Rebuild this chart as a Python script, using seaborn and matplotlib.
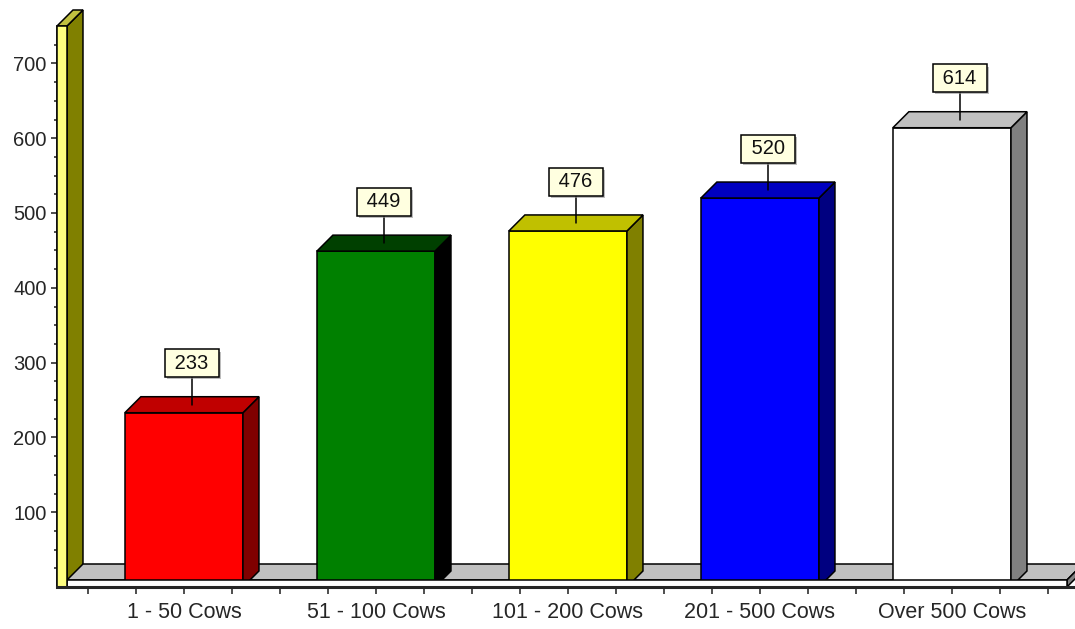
import matplotlib
matplotlib.use("Agg")
import matplotlib.pyplot as plt
import matplotlib.patheffects as pe
from matplotlib.patches import Polygon
import numpy as np
import seaborn as sns

categories = ["1 - 50 Cows", "51 - 100 Cows", "101 - 200 Cows", "201 - 500 Cows", "Over 500 Cows"]
values = [233, 449, 476, 520, 614]
front_colors = ["#FF0000", "#008000", "#FFFF00", "#0000FF", "#FFFFFF"]
top_colors = ["#C00000", "#004000", "#C0C000", "#0000C0", "#C0C0C0"]
side_colors = ["#800000", "#000000", "#808000", "#000080", "#808080"]
y_ticks = [100, 200, 300, 400, 500, 600, 700]

sns.set_style("white")
plt.rcParams["font.family"] = ["Liberation Sans", "DejaVu Sans"]

W, H = 1075, 629
fig = plt.figure(figsize=(W / 100, H / 100), dpi=100)
# axes placed in pixel terms: left 57, right 1075, value 0 at y=587, 750 at y=26
ax = fig.add_axes([57 / W, (H - 587) / H, (W - 57) / W, (587 - 26) / H])

sns.barplot(x=categories, y=values, hue=categories, palette=front_colors, saturation=1,
            width=0.615, edgecolor="black", linewidth=1.1, legend=False, ax=ax, zorder=3)

xmin, xmax = -0.661, 4.641
ymax = 750
ax.set_xlim(xmin, xmax)
ax.set_ylim(0, ymax)

dx = 16 / 192          # depth offset in category units
dy = 16 / 0.748        # depth offset in value units
floor_h = 7 / 0.748    # thickness of the floor slab
lw = 1.1

def poly(pts, fc, z):
    p = Polygon(pts, closed=True, facecolor=fc, edgecolor="black", linewidth=lw,
                zorder=z, clip_on=False)
    ax.add_patch(p)

# left wall
wx0, wx1 = xmin, -0.609
poly([(wx1, 0), (wx1 + dx, dy), (wx1 + dx, ymax + dy), (wx1, ymax)], "#808000", 1)
poly([(wx0, ymax), (wx1, ymax), (wx1 + dx, ymax + dy), (wx0 + dx, ymax + dy)], "#C0C040", 1)

# floor
fx0, fx1 = wx1, 4.599
poly([(fx0, floor_h), (fx1, floor_h), (fx1 + dx, floor_h + dy), (fx0 + dx, floor_h + dy)], "#C0C0C0", 2)
poly([(fx1, 0), (fx1 + dx, dy), (fx1 + dx, floor_h + dy), (fx1, floor_h)], "#808080", 2)

# 3d faces of the bars plus value labels
for bar, top_c, side_c in zip(ax.patches[:len(values)], top_colors, side_colors):
    x0 = bar.get_x()
    x1 = x0 + bar.get_width()
    h = bar.get_height()
    poly([(x1, 0), (x1 + dx, dy), (x1 + dx, h + dy), (x1, h)], side_c, 3)
    poly([(x0, h), (x1, h), (x1 + dx, h + dy), (x0 + dx, h + dy)], top_c, 3)
    cx = (x0 + x1) / 2 + dx / 2
    ax.plot([cx, cx], [h + dy / 2, h + 49], color="black", lw=1.1, zorder=5)
    t = ax.text(cx, h + 66, f" {h:.0f} ", ha="center", va="center", fontsize=14.5, zorder=6,
                color="#101010",
                bbox=dict(boxstyle="square,pad=0.22", facecolor="#FFFFE0", edgecolor="black", linewidth=1.1))
    t.get_bbox_patch().set_path_effects([
        pe.SimplePatchShadow(offset=(1.5, -1.5), shadow_rgbFace="#909090", alpha=0.6), pe.Normal()])

# floor front strip and wall front face sit in front of everything
poly([(fx0, 0), (fx1, 0), (fx1, floor_h), (fx0, floor_h)], "#FFFFFF", 4)
poly([(wx0, 0), (wx1, 0), (wx1, ymax), (wx0, ymax)], "#FFFF80", 4)

# axes styling
for s in ["top", "right"]:
    ax.spines[s].set_visible(False)
ax.spines["left"].set_linewidth(1.2)
ax.spines["bottom"].set_linewidth(2.2)
ax.spines["bottom"].set_zorder(6)

ax.set_yticks(y_ticks)
ax.set_yticks(np.arange(25, ymax, 25), minor=True)
ax.set_xticks(range(len(categories)), labels=categories)
ax.set_xticks(np.arange(-0.5, 4.6, 0.25), minor=True)
ax.tick_params(axis="y", which="major", length=4.5, width=1.2, color="#303030", labelsize=14.5, pad=3, left=True)
ax.tick_params(axis="y", which="minor", length=2.5, width=1.2, color="#303030", left=True)
ax.tick_params(axis="x", which="both", length=5, width=1.2, color="#303030", bottom=True)
ax.tick_params(axis="x", which="major", labelsize=15.5, pad=6)
ax.set_xlabel("")
ax.set_ylabel("")

fig.savefig("out.png", dpi=100)
